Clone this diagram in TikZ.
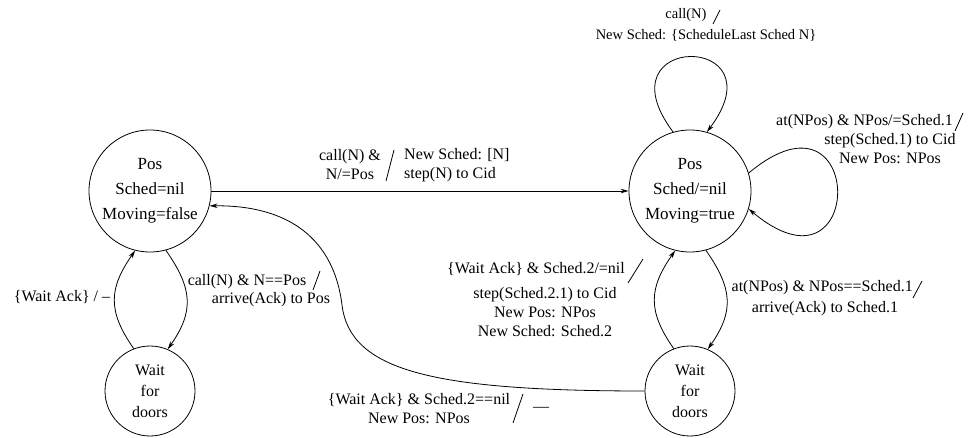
\documentclass[tikz,border=0pt]{standalone}
\usepackage{fontspec}
\setmainfont{Liberation Serif}
\usetikzlibrary{arrows.meta}

\begin{document}
\begin{tikzpicture}[x=1pt,y=1pt,
    state/.style={circle,draw,line width=0.8pt,minimum size=122pt,inner sep=0pt,
      align=center,font=\fontsize{17}{25}\selectfont},
    waitstate/.style={circle,draw,line width=0.8pt,minimum size=90pt,inner sep=0pt,
      align=center,font=\fontsize{16}{21}\selectfont},
    lbl/.style={align=center,inner sep=0pt,font=\fontsize{16}{19}\selectfont},
    trans/.style={->,>={Stealth[length=8pt,width=4.5pt]},line width=0.8pt},
    slash/.style={line width=0.8pt}]
  \useasboundingbox (0,0) rectangle (978,437);

  % Zustaende
  \node[state] (p0) at (150,246) {Pos\\Sched=nil\\Moving=false};
  \node[state] (p1) at (690,246) {Pos\\Sched/=nil\\Moving=true};
  \node[waitstate] (w0) at (150,46) {Wait\\for\\doors};
  \node[waitstate] (w1) at (690,46) {Wait\\for\\doors};

  % Uebergaenge
  \draw[trans] (p0) -- (p1);
  \draw[trans] (w0.111) to[out=125,in=-125,looseness=1.2] (p0.256);
  \draw[trans] (p0.-75) to[out=-55,in=55,looseness=1.2] (w0.67);
  \draw[trans] (w1.111) to[out=125,in=-125,looseness=1.2] (p1.256);
  \draw[trans] (p1.-75) to[out=-55,in=55,looseness=1.2] (w1.67);
  \draw[trans] (p1.106) .. controls +(-75,100) and +(75,100) .. (p1.74);
  \draw[trans] (p1.17) to[out=40,in=-40,looseness=11] (p1.-17);
  \coordinate (dip) at (342,132);
  \draw[trans] (w1.west) .. controls (430,46) and (350,67) .. (dip)
    .. controls (334,197) and (290,232) .. (p0.-14);

  % Beschriftungen
  \node[lbl] (callpos) at (350,272) {call(N) \&\\N/=Pos};
  \draw[slash] (386,256) -- (394,287);
  \node[lbl,anchor=west,align=left] (newsched) at (404,272) {New Sched: [N]\\step(N) to Cid};

  \node[lbl] (callsame) at (247,155) {call(N) \& N==Pos};
  \draw[slash] (313,147) -- (320,166);
  \node[lbl] (arrivepos) at (271,137) {arrive(Ack) to Pos};

  \node[lbl] (waitack) at (62,140) {\{Wait Ack\} / –};

  \node[lbl,font=\fontsize{14.5}{17}\selectfont] (calltop) at (686,422) {call(N)};
  \draw[slash] (713,413) -- (720,427);
  \node[lbl,font=\fontsize{14.5}{17}\selectfont] (schedlast) at (706,402) {New Sched: \{ScheduleLast Sched N\}};

  \node[lbl,anchor=east] (atnext) at (953,315) {at(NPos) \& NPos/=Sched.1};
  \draw[slash] (955,306) -- (963,324);
  \node[lbl] (stepnext) at (890,288) {step(Sched.1) to Cid\\New Pos: NPos};

  \node[lbl,anchor=east] (atlast) at (913,149) {at(NPos) \& NPos==Sched.1};
  \draw[slash] (913,139) -- (922,156);
  \node[lbl] (arrivelast) at (825,128) {arrive(Ack) to Sched.1};

  \node[lbl] (waitmore) at (536,168) {\{Wait Ack\} \& Sched.2/=nil};
  \draw[slash] (628,154) -- (643,178);
  \node[lbl] (stepmore) at (545,125) {step(Sched.2.1) to Cid\\New Pos: NPos\\New Sched: Sched.2};

  \node[lbl] (waitnil) at (419,28) {\{Wait Ack\} \& Sched.2==nil\\New Pos: NPos};
  \draw[slash] (513,14) -- (523,43);
  \node[lbl] (nilact) at (541,28) {—};
\end{tikzpicture}
\end{document}
